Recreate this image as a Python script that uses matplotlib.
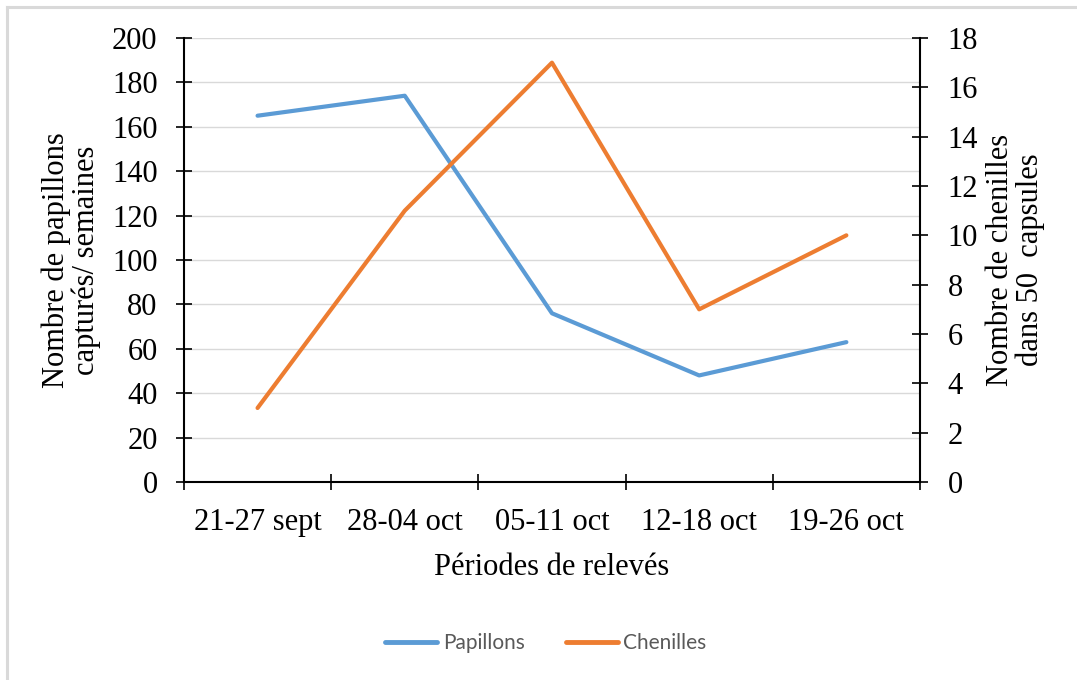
import matplotlib.pyplot as plt
from matplotlib.lines import Line2D

periodes = ["21-27 sept", "28-04 oct", "05-11 oct", "12-18 oct", "19-26 oct"]
papillons = [165, 174, 76, 48, 63]
chenilles = [3, 11, 17, 7, 10]

BLUE = "#5B9BD5"
ORANGE = "#ED7D31"
SERIF = ["Liberation Serif", "DejaVu Serif"]

plt.rcParams["font.family"] = SERIF

fig = plt.figure(figsize=(10.77, 6.8), dpi=100)
ax = fig.add_axes([0.1708, 0.2912, 0.6834, 0.6529])
ax2 = ax.twinx()

x = list(range(len(periodes)))
ax.plot(x, papillons, color=BLUE, lw=3, solid_capstyle="round", zorder=3)
ax2.plot(x, chenilles, color=ORANGE, lw=3, solid_capstyle="round", zorder=3)

ax.set_xlim(-0.5, len(periodes) - 0.5)
ax.set_ylim(0, 200)
ax.set_yticks(range(0, 201, 20))
ax2.set_ylim(0, 18)
ax2.set_yticks(range(0, 19, 2))

# category labels centred, tick marks on the boundaries
ax.set_xticks(x)
ax.set_xticklabels(periodes)
ax.set_xticks([i - 0.5 for i in range(len(periodes) + 1)], minor=True)
ax.tick_params(axis="x", which="major", length=0, pad=19, labelsize=22)
ax.tick_params(axis="x", which="minor", length=12, width=1.2, direction="inout")

ax.tick_params(axis="y", length=12, width=1.2, direction="inout", pad=13, labelsize=22)
ax2.tick_params(axis="y", length=12, width=1.2, direction="inout", pad=14, labelsize=22)

ax.grid(axis="y", color="#D9D9D9", lw=1)
ax.set_axisbelow(True)
for a in (ax, ax2):
    a.spines["top"].set_visible(False)
    for s in ("left", "right", "bottom"):
        a.spines[s].set_linewidth(1.5)
ax.spines["right"].set_visible(False)
ax2.spines["left"].set_visible(False)
ax2.spines["bottom"].set_visible(False)

fig.text(0.066, 0.6176, "Nombre de papillons\ncapturés/ semaines", rotation=90,
         ha="center", va="center", multialignment="center", fontsize=22,
         linespacing=1.0)
fig.text(0.943, 0.6176, "Nombre de chenilles\ndans 50  capsules", rotation=90,
         ha="center", va="center", multialignment="center", fontsize=22,
         linespacing=1.0)
fig.text(0.5125, 0.166, "Périodes de relevés", ha="center", va="center", fontsize=22)

handles = [Line2D([], [], color=BLUE, lw=3.5, solid_capstyle="round"),
           Line2D([], [], color=ORANGE, lw=3.5, solid_capstyle="round")]
leg = fig.legend(handles, ["Papillons", "Chenilles"], loc="center",
                 bbox_to_anchor=(0.507, 0.054), ncol=2, frameon=False,
                 handlelength=2.5, handletextpad=0.25, columnspacing=2.0,
                 prop={"family": "Lato", "size": 15})
for t in leg.get_texts():
    t.set_color("#595959")

# light frame around the chart area
fig.add_artist(Line2D([0.0065, 0.0065], [0, 0.9897], transform=fig.transFigure,
                      color="#D9D9D9", lw=2.2))
fig.add_artist(Line2D([0.0065, 1], [0.9897, 0.9897], transform=fig.transFigure,
                      color="#D9D9D9", lw=2.2))

fig.savefig("out.png", dpi=100, facecolor="white")
